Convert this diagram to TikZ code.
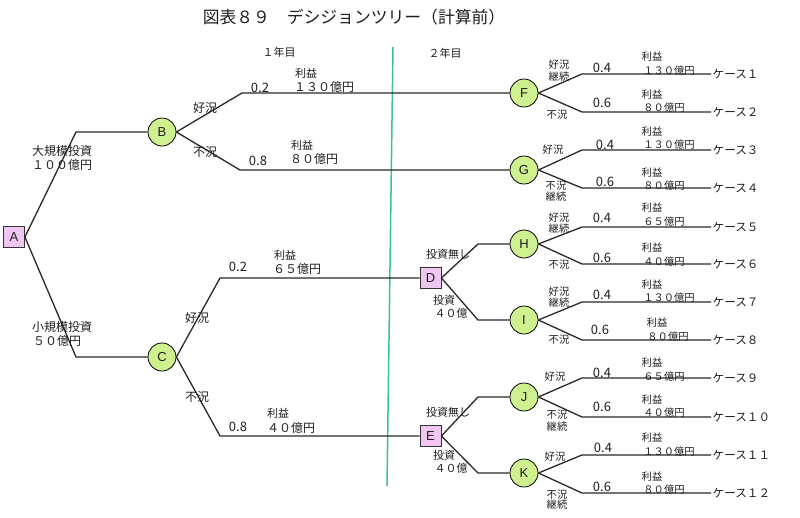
\documentclass[tikz,border=0pt]{standalone}
\usepackage{fontspec}
\setmainfont{Noto Sans CJK JP}
\newfontfamily\latinf{Liberation Sans}
\definecolor{cfill}{RGB}{206,240,142}
\definecolor{sfill}{RGB}{242,198,242}
\definecolor{sepc}{RGB}{60,190,160}
\definecolor{ln}{RGB}{40,40,40}
\definecolor{txt}{RGB}{30,30,30}
\begin{document}
\begin{tikzpicture}[x=1pt,y=-1pt,
  chance/.style={circle,draw=black,fill=cfill,minimum size=28pt,inner sep=0pt,line width=0.8pt,text=txt,font=\latinf\fontsize{13}{13}\selectfont},
  decision/.style={rectangle,draw=black!80,fill=sfill,minimum size=21pt,inner sep=0pt,line width=0.8pt,text=txt,font=\latinf\fontsize{13}{13}\selectfont},
  edge/.style={draw=ln,line width=1.3pt},
  t12/.style={inner sep=0pt,text=txt,font=\fontsize{12}{12}\selectfont},
  t11/.style={inner sep=0pt,text=txt,font=\fontsize{11}{11}\selectfont},
  t10/.style={inner sep=0pt,text=txt,font=\fontsize{10.3}{10.3}\selectfont},
  tnum/.style={inner sep=0pt,text=txt,font=\fontsize{13}{13}\selectfont},
  casebox/.style={anchor=west,inner sep=1.5pt,text=txt,font=\fontsize{11.6}{12}\selectfont}
]
\useasboundingbox (0,0) rectangle (800,517);

% title and headers
\node[inner sep=0pt,text=txt,font=\fontsize{16.8}{17}\selectfont] (title) at (354,17) {図表８９　デシジョンツリー（計算前）};
\node[t11] (y1) at (279,52) {１年目};
\node[t11] (y2) at (445,53) {２年目};

% separator
\coordinate (septop) at (393,47);
\coordinate (sepbot) at (387,486);
\draw[sepc,line width=1.5pt] (septop) -- (sepbot);

% nodes
\node[decision] (A) at (14,237) {A};
\node[chance] (B) at (162,132) {B};
\node[chance] (C) at (162,357) {C};
\node[decision] (D) at (430.5,278) {D};
\node[decision] (E) at (430.5,436) {E};
\node[chance] (F) at (524,93) {F};
\node[chance] (G) at (524,170) {G};
\node[chance] (H) at (524,244) {H};
\node[chance] (I) at (524,320) {I};
\node[chance] (J) at (524,397) {J};
\node[chance] (K) at (524,473) {K};

\node[casebox] (c1) at (711,74) {ケース１};
\node[casebox] (c2) at (711,112) {ケース２};
\node[casebox] (c3) at (711,150) {ケース３};
\node[casebox] (c4) at (711,188) {ケース４};
\node[casebox] (c5) at (711,227) {ケース５};
\node[casebox] (c6) at (711,264) {ケース６};
\node[casebox] (c7) at (711,302) {ケース７};
\node[casebox] (c8) at (711,340) {ケース８};
\node[casebox] (c9) at (711,378) {ケース９};
\node[casebox] (c10) at (711,417) {ケース１０};
\node[casebox] (c11) at (711,455) {ケース１１};
\node[casebox] (c12) at (711,493) {ケース１２};

% edges
\draw[edge] (A.east) -- (76,132) -- (B.west);
\draw[edge] (A.east) -- (76,357) -- (C.west);
\draw[edge] (B.east) -- (242,93) -- (F.west);
\draw[edge] (B.east) -- (240,170) -- (G.west);
\draw[edge] (C.east) -- (220,278) -- (D.west);
\draw[edge] (C.east) -- (220,436) -- (E.west);
\draw[edge] (D.east) -- (478,244) -- (H.west);
\draw[edge] (D.east) -- (478,320) -- (I.west);
\draw[edge] (E.east) -- (478,397) -- (J.west);
\draw[edge] (E.east) -- (478,473) -- (K.west);
\draw[edge] (F.east) -- (582,74) -- (c1.west);
\draw[edge] (F.east) -- (582,112) -- (c2.west);
\draw[edge] (G.east) -- (582,150) -- (c3.west);
\draw[edge] (G.east) -- (582,188) -- (c4.west);
\draw[edge] (H.east) -- (582,227) -- (c5.west);
\draw[edge] (H.east) -- (582,264) -- (c6.west);
\draw[edge] (I.east) -- (582,302) -- (c7.west);
\draw[edge] (I.east) -- (582,340) -- (c8.west);
\draw[edge] (J.east) -- (582,378) -- (c9.west);
\draw[edge] (J.east) -- (582,417) -- (c10.west);
\draw[edge] (K.east) -- (582,455) -- (c11.west);
\draw[edge] (K.east) -- (582,493) -- (c12.west);

% left labels
\node[t12] (l1) at (62,151) {大規模投資};
\node[t12] (l2) at (62,165) {１００億円};
\node[t12] (l3) at (205,108) {好況};
\node[t12] (l4) at (205,152) {不況};
\node[tnum] (l5) at (260,88) {0.2};
\node[t11] (l6) at (306,73) {利益};
\node[t12] (l7) at (324,87) {１３０億円};
\node[tnum] (l8) at (258,161) {0.8};
\node[t11] (l9) at (302,145) {利益};
\node[t12] (l10) at (314,159) {８０億円};
\node[t12] (l11) at (62,327) {小規模投資};
\node[t12] (l12) at (57,341) {５０億円};
\node[t12] (l13) at (197,318) {好況};
\node[t12] (l14) at (197,397) {不況};
\node[tnum] (l15) at (238,267) {0.2};
\node[t11] (l16) at (285,255) {利益};
\node[t12] (l17) at (297,269) {６５億円};
\node[tnum] (l18) at (238,427) {0.8};
\node[t11] (l19) at (278,413) {利益};
\node[t12] (l20) at (291,428) {４０億円};

% D, E labels
\node[t11] (d1) at (448,254) {投資無し};
\node[t11] (d2) at (444,300) {投資};
\node[t11] (d3) at (451,313) {４０億};
\node[t11] (e1) at (448,412) {投資無し};
\node[t11] (e2) at (444,455) {投資};
\node[t11] (e3) at (451,468) {４０億};

% F
\node[t10] (f1) at (559,65) {好況};
\node[t10] (f2) at (559,77) {継続};
\node[t10] (f3) at (557,115) {不況};
\node[tnum] (f4) at (602,68) {0.4};
\node[t10] (f5) at (652,57) {利益};
\node[t10] (f6) at (669,71) {１３０億円};
\node[tnum] (f7) at (602,103) {0.6};
\node[t10] (f8) at (652,95) {利益};
\node[t10] (f9) at (664,108) {８０億円};
% G
\node[t10] (g1) at (553,150) {好況};
\node[t10] (g2) at (556,186) {不況};
\node[t10] (g3) at (556,197) {継続};
\node[tnum] (g4) at (605,145) {0.4};
\node[t10] (g5) at (652,132) {利益};
\node[t10] (g6) at (669,145) {１３０億円};
\node[tnum] (g7) at (605,182) {0.6};
\node[t10] (g8) at (652,173) {利益};
\node[t10] (g9) at (664,186) {８０億円};
% H
\node[t10] (h1) at (559,218) {好況};
\node[t10] (h2) at (559,229) {継続};
\node[t10] (h3) at (559,265) {不況};
\node[tnum] (h4) at (602,218) {0.4};
\node[t10] (h5) at (652,208) {利益};
\node[t10] (h6) at (664,222) {６５億円};
\node[tnum] (h7) at (602,258) {0.6};
\node[t10] (h8) at (652,248) {利益};
\node[t10] (h9) at (664,262) {４０億円};
% I
\node[t10] (i1) at (559,292) {好況};
\node[t10] (i2) at (559,303) {継続};
\node[t10] (i3) at (559,340) {不況};
\node[tnum] (i4) at (602,295) {0.4};
\node[t10] (i5) at (652,285) {利益};
\node[t10] (i6) at (669,298) {１３０億円};
\node[tnum] (i7) at (600,330) {0.6};
\node[t10] (i8) at (657,323) {利益};
\node[t10] (i9) at (668,337) {８０億円};
% J
\node[t10] (j1) at (555,377) {好況};
\node[t10] (j2) at (557,415) {不況};
\node[t10] (j3) at (557,427) {継続};
\node[tnum] (j4) at (602,373) {0.4};
\node[t10] (j5) at (652,363) {利益};
\node[t10] (j6) at (664,377) {６５億円};
\node[tnum] (j7) at (602,407) {0.6};
\node[t10] (j8) at (652,400) {利益};
\node[t10] (j9) at (664,413) {４０億円};
% K
\node[t10] (k1) at (555,457) {好況};
\node[t10] (k2) at (557,495) {不況};
\node[t10] (k3) at (557,505) {継続};
\node[tnum] (k4) at (603,448) {0.4};
\node[t10] (k5) at (652,438) {利益};
\node[t10] (k6) at (669,452) {１３０億円};
\node[tnum] (k7) at (602,487) {0.6};
\node[t10] (k8) at (652,477) {利益};
\node[t10] (k9) at (664,490) {８０億円};
\end{tikzpicture}
\end{document}
